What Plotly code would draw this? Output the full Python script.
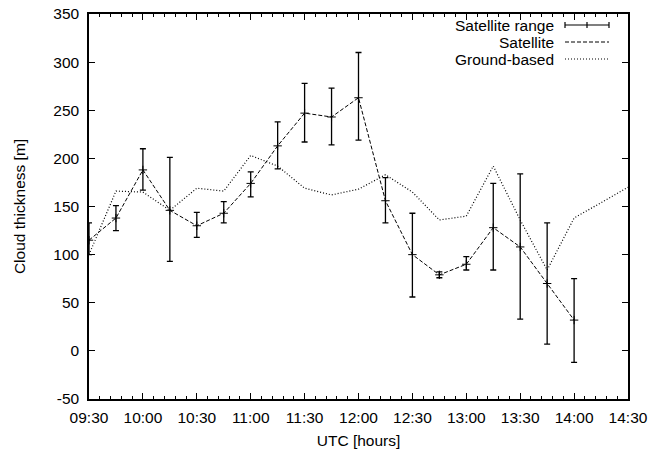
import plotly.graph_objects as go

# ---- data ----
sat_times = ["09:30", "09:45", "10:00", "10:15", "10:30", "10:45", "11:00", "11:15",
             "11:30", "11:45", "12:00", "12:15", "12:30", "12:45", "13:00", "13:15",
             "13:30", "13:45", "14:00"]
sat_values = [115, 138, 188, 146, 130, 143, 174, 213, 247, 243, 263, 156, 100, 79, 90, 128, 108, 70, 32]
sat_high = [133, 151, 210, 201, 144, 155, 186, 238, 278, 273, 310, 180, 143, 82, 98, 174, 184, 133, 75]
sat_low = [100, 125, 167, 93, 118, 133, 160, 189, 217, 214, 219, 133, 56, 76, 84, 84, 33, 7, -12]

ground_times = ["09:30", "09:45", "10:00", "10:15", "10:30", "10:45", "11:00", "11:15",
                "11:30", "11:45", "12:00", "12:15", "12:30", "12:45", "13:00", "13:15",
                "13:30", "13:45", "14:00", "14:15", "14:30"]
ground_values = [100, 166, 165, 146, 169, 166, 203, 192, 169, 162, 168, 183, 165, 136, 140, 192,
                 136, 84, 138, 154, 170]

x_ticks = ["09:30", "10:00", "10:30", "11:00", "11:30", "12:00", "12:30", "13:00",
           "13:30", "14:00", "14:30"]
y_ticks = [-50, 0, 50, 100, 150, 200, 250, 300, 350]
y_tick_labels = ["-50", "0", "50", "100", "150", "200", "250", "300", "350"]

DAY = "2000-01-01 "
def ts(t):
    return DAY + t + ":00"

FONT = "Liberation Sans, Arial, Helvetica, sans-serif"
FS = 15.5

fig = go.Figure()

# Satellite dashed line
fig.add_trace(go.Scatter(
    x=[ts(t) for t in sat_times], y=sat_values, mode="lines",
    line=dict(color="black", width=1, dash="4px,2px"), showlegend=False, name="Satellite"))

# Ground-based dotted line
fig.add_trace(go.Scatter(
    x=[ts(t) for t in ground_times], y=ground_values, mode="lines",
    line=dict(color="black", width=1.2, dash="1px,2px"), showlegend=False, name="Ground-based"))

# Satellite range error bars
fig.add_trace(go.Scatter(
    x=[ts(t) for t in sat_times], y=sat_values, mode="markers",
    marker=dict(symbol="cross-thin", size=6, line=dict(color="black", width=1), color="black"),
    error_y=dict(type="data", symmetric=False,
                 array=[h - v for h, v in zip(sat_high, sat_values)],
                 arrayminus=[v - l for l, v in zip(sat_low, sat_values)],
                 color="black", thickness=1.3, width=3),
    showlegend=False, name="Satellite range"))

# ---- manual gnuplot-style legend (text right, sample right) ----
L = 89; R = 628; T = 14; B = 399
def px(x):
    return (x - L) / (R - L)
def py(y):
    return (B - y) / (B - T)

rows = [("Satellite range", 25), ("Satellite", 42), ("Ground-based", 59)]
for label, yy in rows:
    fig.add_annotation(x=px(556), y=py(yy), xref="paper", yref="paper", text=label,
                       showarrow=False, xanchor="right", yanchor="middle",
                       font=dict(family=FONT, size=FS, color="black"))

x0, x1 = px(565), px(609)
# errorbar sample
fig.add_shape(type="line", xref="paper", yref="paper", x0=x0, x1=x1, y0=py(25), y1=py(25),
              line=dict(color="black", width=1.2))
for xx in (565, 609, 587):
    fig.add_shape(type="line", xref="paper", yref="paper", x0=px(xx), x1=px(xx),
                  y0=py(22), y1=py(28), line=dict(color="black", width=1.2))
fig.add_shape(type="line", xref="paper", yref="paper", x0=x0, x1=x1, y0=py(42), y1=py(42),
              line=dict(color="black", width=1, dash="4px,2px"))
fig.add_shape(type="line", xref="paper", yref="paper", x0=x0, x1=x1, y0=py(59), y1=py(59),
              line=dict(color="black", width=1.2, dash="1px,2px"))

fig.update_layout(
    width=648, height=449,
    margin=dict(l=L, r=648 - R, t=T, b=449 - B),
    paper_bgcolor="white", plot_bgcolor="white",
    font=dict(family=FONT, size=FS, color="black"),
    showlegend=False,
)

fig.update_xaxes(
    type="date", range=[ts("09:30"), ts("14:30")],
    tickvals=[ts(t) for t in x_ticks], ticktext=x_ticks,
    ticks="inside", ticklen=6, tickwidth=1, tickcolor="black", ticklabelstandoff=4,
    minor=dict(dtick=360000, ticks="inside", ticklen=3, tickcolor="black", showgrid=False),
    showline=True, linecolor="black", linewidth=1.5, mirror="allticks",
    showgrid=False, zeroline=False, automargin=False,
    title=dict(text="UTC [hours]", standoff=10, font=dict(size=FS)),
    tickfont=dict(size=FS),
)
fig.update_yaxes(
    range=[-50, 350], tickvals=y_ticks, ticktext=y_tick_labels,
    ticks="inside", ticklen=6, tickwidth=1, tickcolor="black", ticklabelstandoff=5,
    showline=True, linecolor="black", linewidth=1.5, mirror="allticks",
    showgrid=False, zeroline=False, automargin=False,
    title=dict(text="Cloud thickness [m]", standoff=24, font=dict(size=FS)),
    tickfont=dict(size=FS),
)

fig.write_html("out.html", post_script="document.body.style.margin='0px';",
               config=dict(displayModeBar=False))
